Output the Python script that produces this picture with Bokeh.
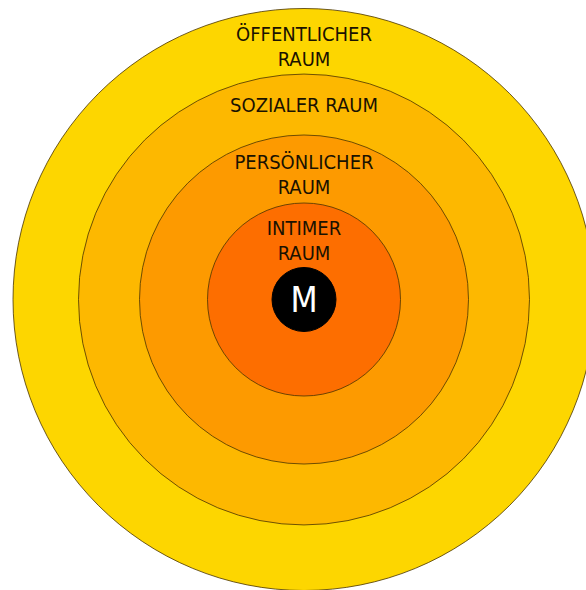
from bokeh.plotting import figure
from bokeh.models import ColumnDataSource, Range1d
from bokeh.core.properties import value
from bokeh.embed import file_html
from bokeh.resources import INLINE

# Proxemic zones (outermost first)
zones = ["ÖFFENTLICHER\nRAUM", "SOZIALER RAUM", "PERSÖNLICHER\nRAUM", "INTIMER\nRAUM"]
radii = [291, 225.5, 164.5, 96.5]
colors = ["#FDD600", "#FDB800", "#FD9A00", "#FD6E00"]
center_label = "M"
center_radius = 32

CX, CY = 303.5, 299
LINE_GAP = 25

W, H = 586, 590
p = figure(width=W, height=H, output_backend="svg", toolbar_location=None,
           x_range=Range1d(0, W), y_range=Range1d(H, 0), min_border=0)
p.axis.visible = False
p.grid.visible = False
p.outline_line_color = None
p.background_fill_color = "white"
p.border_fill_color = "white"

src = ColumnDataSource(dict(x=[CX] * len(radii), y=[CY] * len(radii), r=radii, c=colors))
p.circle(x="x", y="y", radius="r", fill_color="c", line_color="#4a3500",
         line_width=1, line_alpha=0.8, source=src)

p.circle(x=[CX], y=[CY], radius=[center_radius], fill_color="black", line_color="black")

inner = radii[1:] + [center_radius]
tx, ty, tt = [], [], []
for label, ro, ri in zip(zones, radii, inner):
    lines = label.split("\n")
    n = len(lines)
    mid = CY - (ro + ri) / 2 + (n - 1) * 5
    for i, ln in enumerate(lines):
        tx.append(CX)
        ty.append(mid + (i - (n - 1) / 2) * LINE_GAP)
        tt.append(ln)

p.text(x=tx, y=ty, text=tt, text_align="center", text_baseline="middle",
       text_font=value("DejaVu Sans Condensed"), text_font_size="20px", text_color="#1a1200")

p.text(x=[CX], y=[CY], text=[center_label], text_align="center", text_baseline="middle",
       text_font=value("DejaVu Sans Condensed"), text_font_size="35px", text_color="white")

open("out.html", "w").write(file_html(p, INLINE))
